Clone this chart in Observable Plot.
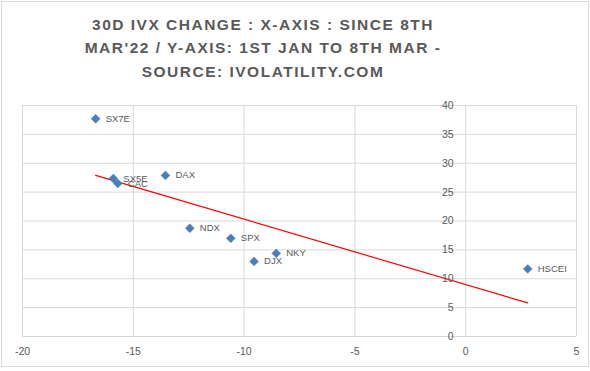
<!DOCTYPE html>
<html>
<head>
<meta charset="utf-8">
<script src="https://cdn.jsdelivr.net/npm/d3@7"></script>
<script src="https://cdn.jsdelivr.net/npm/@observablehq/plot@0.6"></script>
<style>
  html, body { margin: 0; padding: 0; background: #fff; }
  #wrap { position: relative; width: 590px; height: 371px; overflow: hidden; }
  #title {
    position: absolute; left: 0; top: 13px; width: 526px; text-align: center;
    font-family: "Liberation Sans", Arial, sans-serif; font-weight: bold;
    font-size: 15.5px; letter-spacing: 1.5px; line-height: 23.3px; color: #595959;
  }
  #border { position: absolute; left: 1px; top: 1px; width: 586px; height: 364px; border: 1px solid #d9d9d9; pointer-events: none; }
  #chart { position: absolute; left: 0; top: 0; }
</style>
</head>
<body>
<div id="wrap">
  <div id="chart"></div>
  <div id="title">30D IVX CHANGE : X-AXIS : SINCE 8TH<br>MAR'22 / Y-AXIS: 1ST JAN TO 8TH MAR -<br>SOURCE: IVOLATILITY.COM</div>
  <div id="border"></div>
</div>
<script>
const labels  = ["SX7E", "SX5E", "CAC", "DAX", "NDX", "SPX", "DJX", "NKY", "HSCEI"];
const xChange = [-16.7, -15.9, -15.7, -13.55, -12.45, -10.6, -9.55, -8.55, 2.8];
const yChange = [37.7, 27.35, 26.5, 27.9, 18.75, 17.0, 13.0, 14.4, 11.7];
const xTicks = [-20, -15, -10, -5, 0, 5];
const yTicks = [0, 5, 10, 15, 20, 25, 30, 35, 40];

const data = labels.map((l, i) => ({label: l, x: xChange[i], y: yChange[i]}));

const grid = "#d9d9d9";
const txt = "#595959";

const chart = Plot.plot({
  width: 590,
  height: 371,
  marginLeft: 22,
  marginRight: 14,
  marginTop: 105,
  marginBottom: 35,
  style: {fontFamily: "Liberation Sans, Arial, sans-serif", fontSize: "10.5px", color: txt, background: "transparent"},
  x: {domain: [-20, 5]},
  y: {domain: [0, 40], axis: null},
  marks: [
    Plot.ruleY(yTicks, {y: d => d, stroke: grid, strokeWidth: 1}),
    Plot.ruleX(xTicks, {x: d => d, stroke: grid, strokeWidth: 1}),
    Plot.linearRegressionY(data, {x: "x", y: "y", stroke: "#ff0000", strokeWidth: 1.2, ci: 0}),
    Plot.dot(data, {x: "x", y: "y", symbol: "diamond2", fill: "#4a7ebb", stroke: "#4a7ebb", strokeWidth: 0.5, r: 4}),
    Plot.text(data, {x: "x", y: "y", text: "label", textAnchor: "start", dx: 10, fill: txt, fontSize: 9.5}),
    Plot.text(yTicks, {x: 0, y: d => d, text: d => String(d), textAnchor: "end", dx: -12, fill: txt, fontSize: 10.5}),
    Plot.axisX(xTicks, {tickSize: 0, tickPadding: 11, tickFormat: d => String(d), label: null, fill: txt, fontSize: 10.5})
  ]
});
document.getElementById("chart").appendChild(chart);
</script>
</body>
</html>
